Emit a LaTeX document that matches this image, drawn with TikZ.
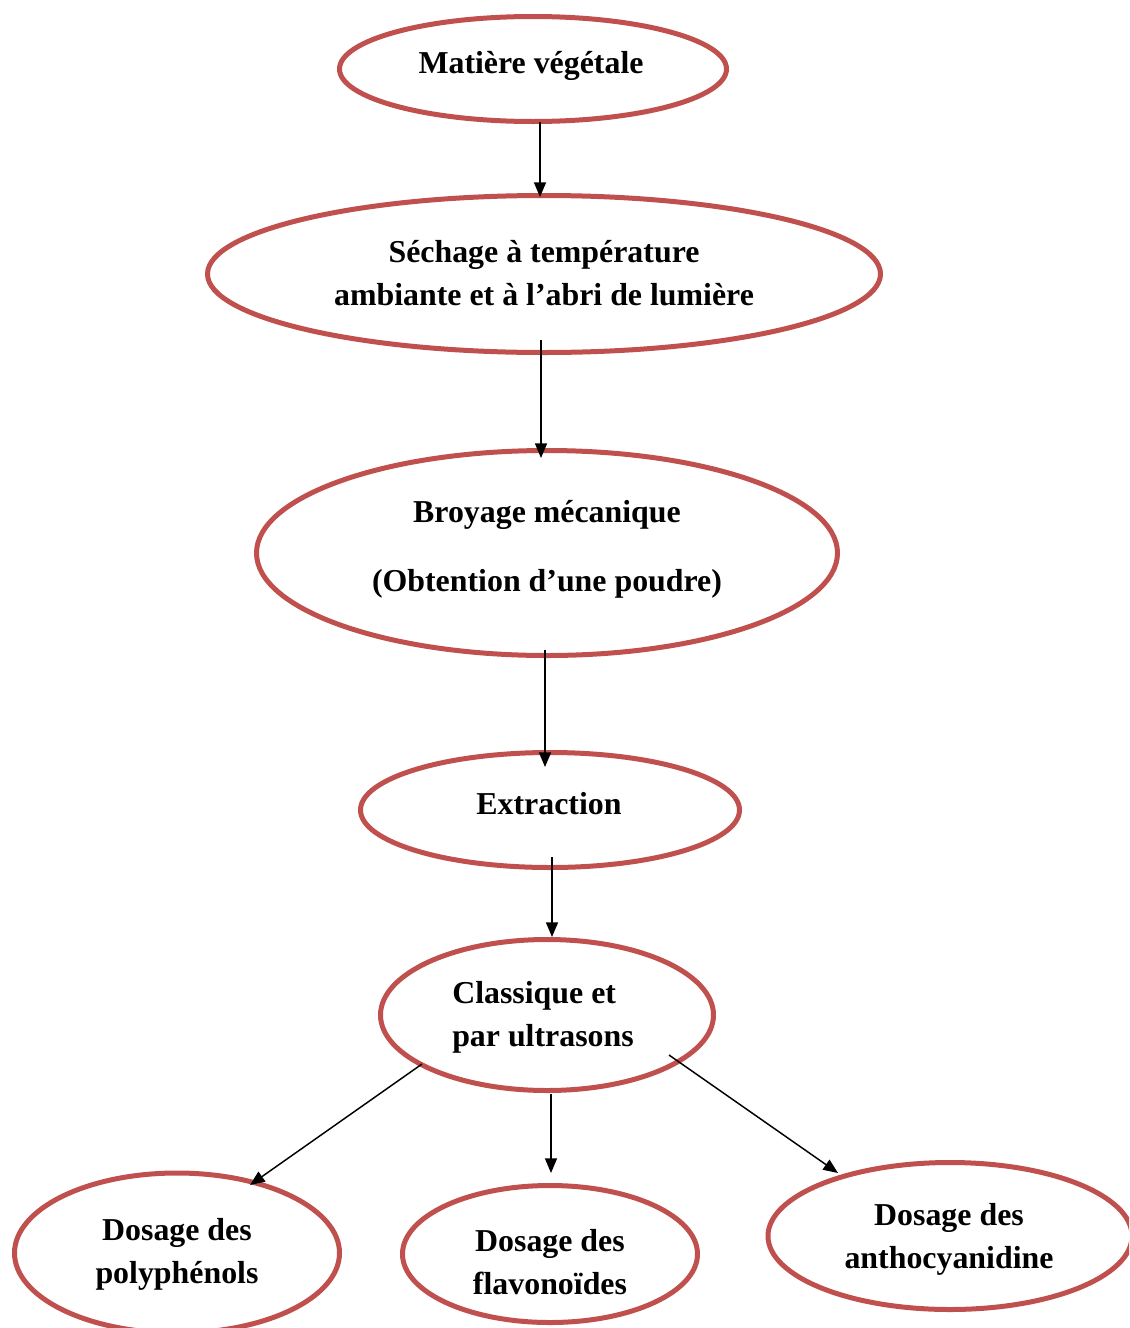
\documentclass[tikz,border=0pt]{standalone}
\usepackage{fontspec}
\setmainfont{Liberation Serif}
\usetikzlibrary{arrows.meta,calc,shapes.geometric}
\definecolor{ellred}{RGB}{192,80,77}
\tikzset{
  ell/.style={ellipse,draw=ellred,line width=3.75pt,inner sep=0pt,outer sep=0pt},
  lbl/.style={font=\fontsize{23.9}{32.25}\selectfont\bfseries,align=center,inner sep=0pt},
  arr/.style={draw=black,line width=1.1pt,-{Triangle[length=11pt,width=9pt]}}
}
\begin{document}
\begin{tikzpicture}[x=0.75pt,y=-0.75pt]
\useasboundingbox (0,0) rectangle (1129,1328);
\begin{scope}
\clip (0,0) rectangle (1129,1328);
\node[ell,minimum width=290.25pt,minimum height=78.75pt] (e1) at (533,69) {};
\node[ell,minimum width=504.75pt,minimum height=117.75pt] (e2) at (544,274) {};
\node[ell,minimum width=435.75pt,minimum height=153.75pt] (e3) at (547,553) {};
\node[ell,minimum width=284.25pt,minimum height=86.25pt] (e4) at (550,810) {};
\node[ell,minimum width=249.75pt,minimum height=113.25pt] (e5) at (547,1015) {};
\node[ell,minimum width=243.75pt,minimum height=120pt] (e6) at (177,1253) {};
\node[ell,minimum width=221.25pt,minimum height=102.75pt] (e7) at (550,1254) {};
\node[ell,minimum width=273pt,minimum height=110.25pt] (e8) at (950,1236) {};
\end{scope}
\node[lbl] (t1) at (531,66) {Matière végétale};
\node[lbl] (t2) at (544,273) {Séchage à température\\ambiante et à l’abri de lumière};
\node[lbl] (t3) at (547,549) {Broyage mécanique\\[19.5pt](Obtention d’une poudre)};
\node[lbl] (t4) at (549,804) {Extraction};
\node[lbl,align=left] (t5) at (543,1017) {Classique et\\par ultrasons};
\node[lbl] (t6) at (177,1254) {Dosage des\\polyphénols};
\node[lbl] (t7) at (550,1262) {Dosage des\\flavonoïdes};
\node[lbl] (t8) at (949,1239) {Dosage des\\anthocyanidine};
\draw[arr] ($(e1)+(7,53)$) -- ($(e2)+(-4,-77)$);
\draw[arr] ($(e2)+(-3,66)$) -- ($(e3)+(-6,-95)$);
\draw[arr] ($(e3)+(-2,97)$) -- ($(e4)+(-5,-43)$);
\draw[arr] ($(e4)+(2,47)$) -- ($(e5)+(5,-78)$);
\draw[arr] ($(e5)+(-125,49)$) -- ($(e6)+(73,-68)$);
\draw[arr] ($(e5)+(4,79)$) -- ($(e7)+(1,-81)$);
\draw[arr] ($(e5)+(122,40)$) -- ($(e8)+(-112,-63)$);
\end{tikzpicture}
\end{document}
